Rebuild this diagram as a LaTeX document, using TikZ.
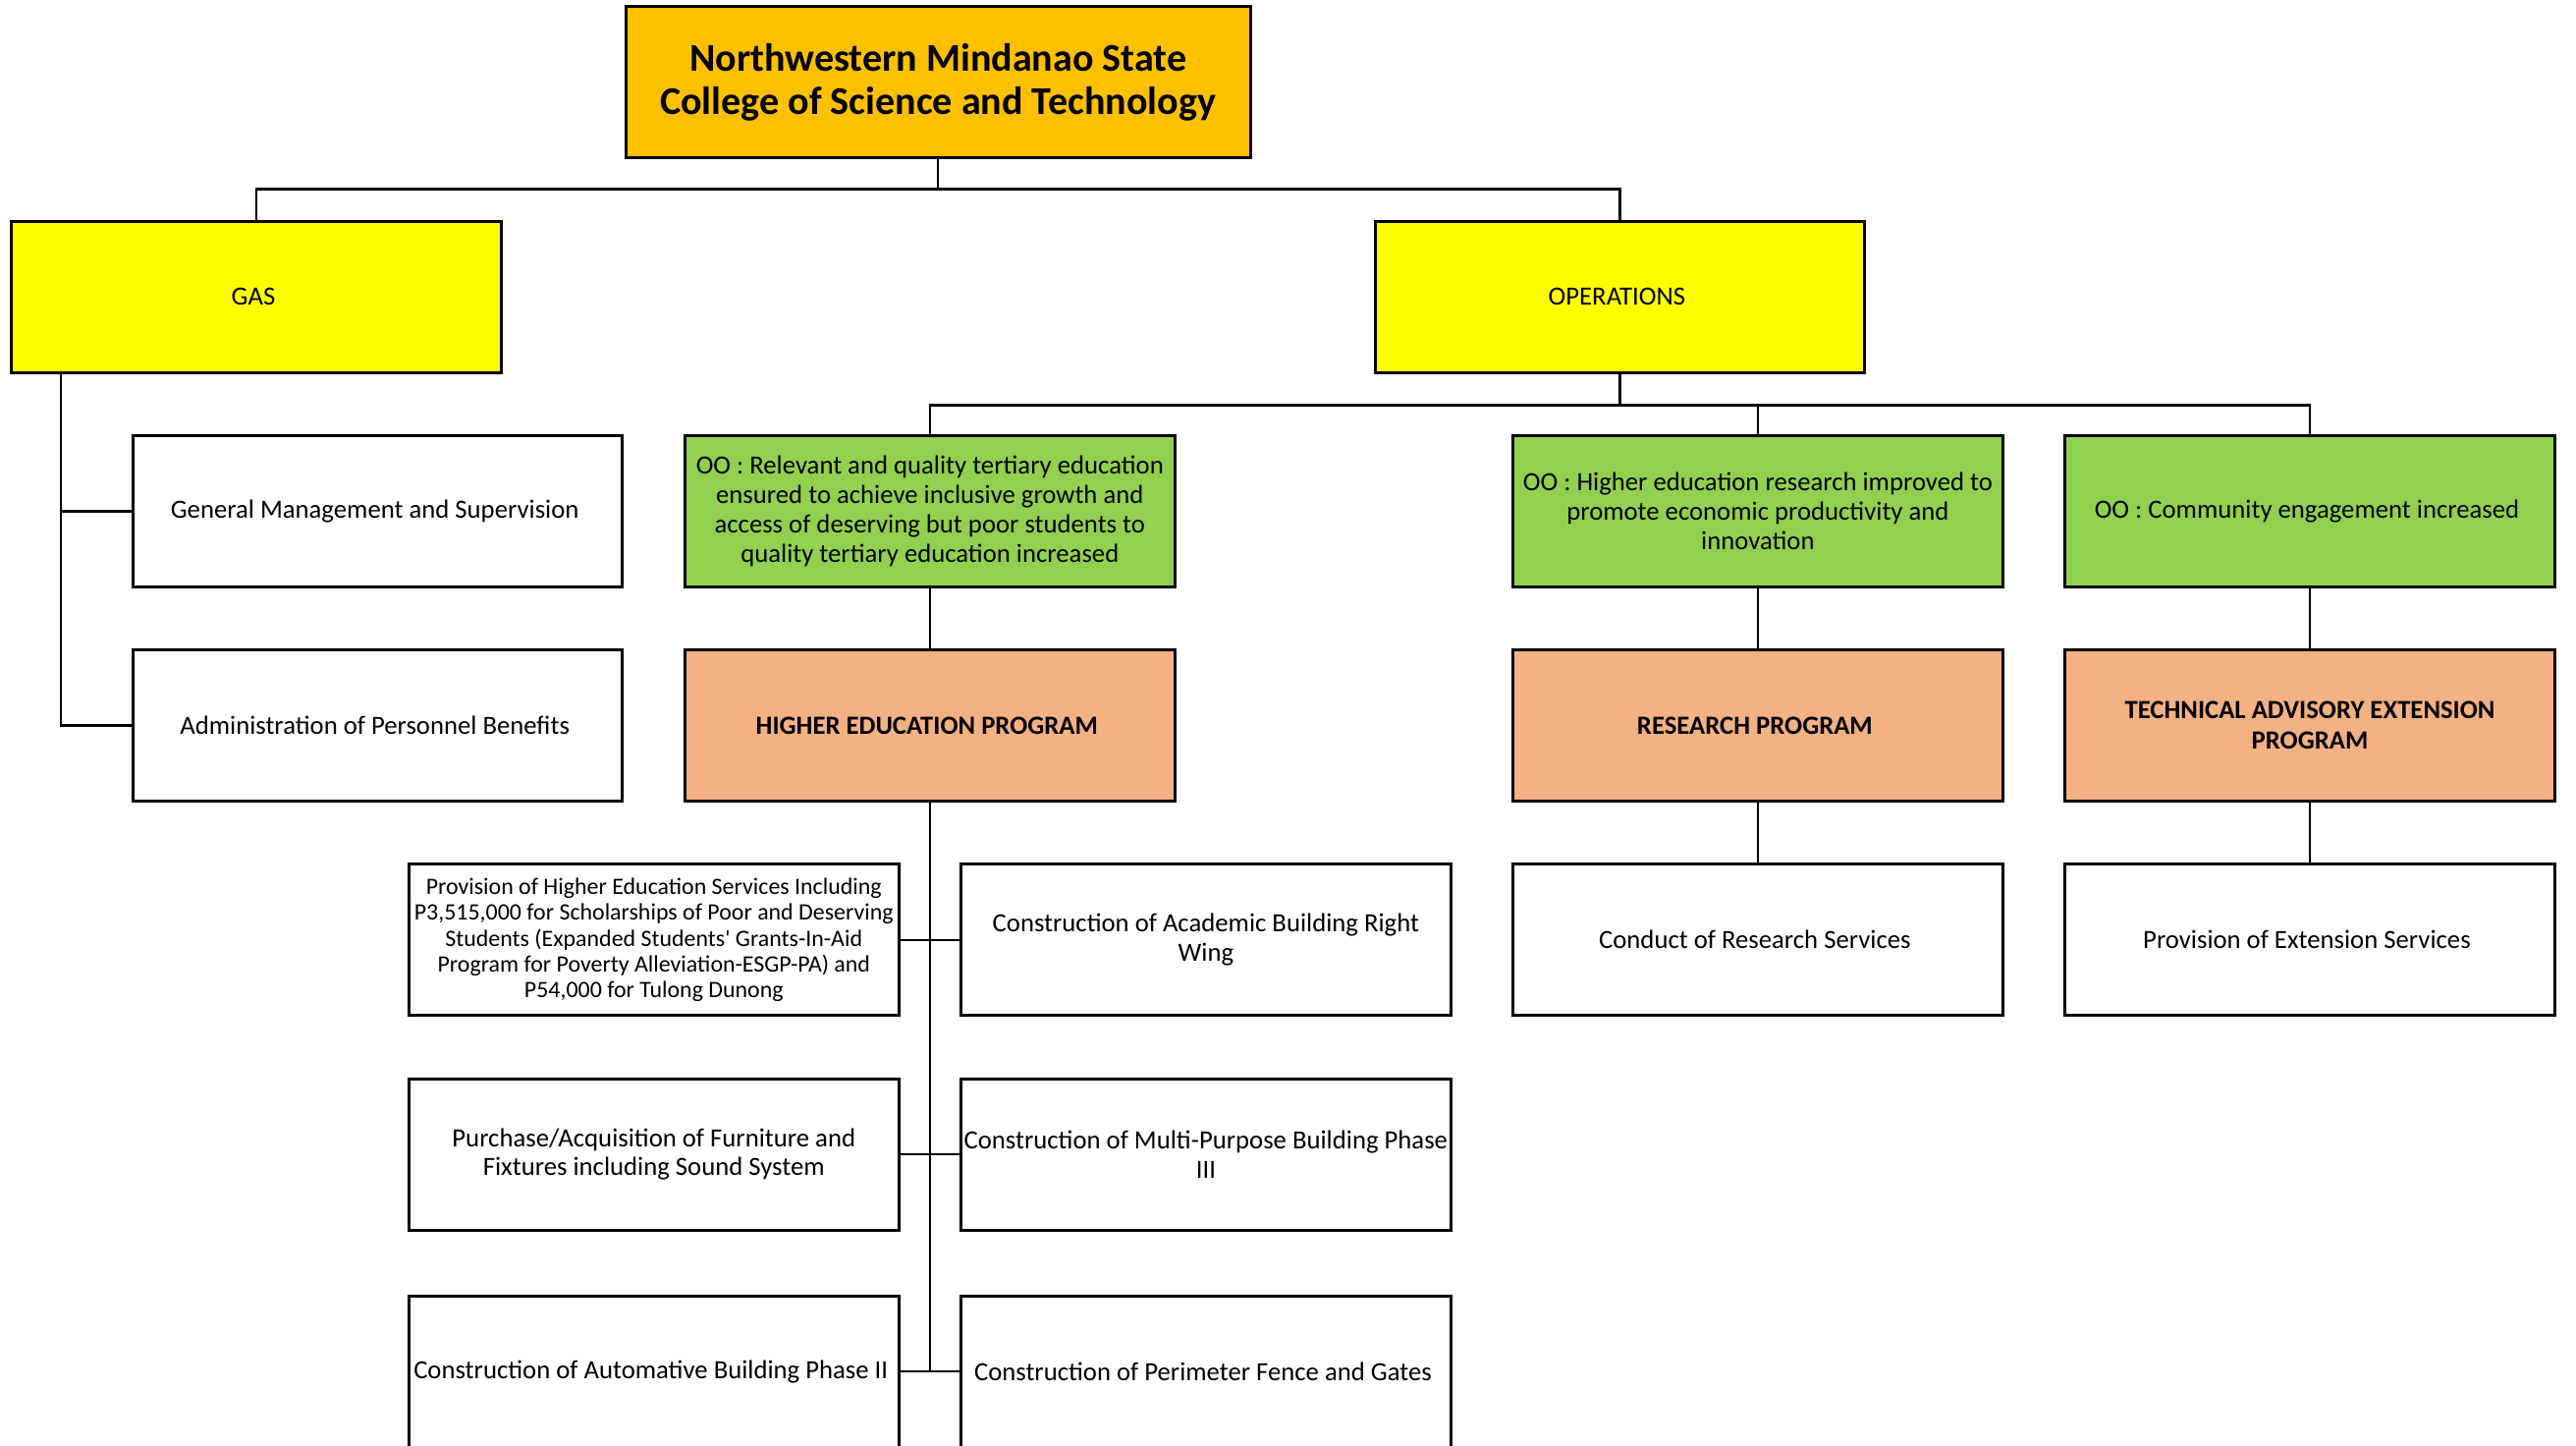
\documentclass[tikz,border=0pt]{standalone}
\usepackage{fontspec}
\setmainfont{Carlito}
\usepackage{tikz}
\usetikzlibrary{positioning}
\definecolor{rootGold}{HTML}{FFC000}
\definecolor{unitYellow}{HTML}{FFFF00}
\definecolor{outcomeGreen}{HTML}{92D050}
\definecolor{programPeach}{HTML}{F4B183}
\tikzstyle{link} = [line width=0.7pt]
\tikzstyle{stdNode} = [shape = rectangle, draw, line width=0.85pt, outer sep=0pt, minimum width=4.985cm, minimum height=1.54cm, inner sep=1pt, align=center, font=\fontsize{7.6}{8.5}\selectfont]
\tikzstyle{smallNode} = [stdNode, font=\fontsize{6.8}{7.5}\selectfont]
\tikzstyle{rootNode} = [stdNode, fill=rootGold, minimum width=6.357cm, minimum height=1.54cm, font=\fontsize{11.4}{12.4}\selectfont\bfseries]
\tikzstyle{unitNode} = [stdNode, fill=unitYellow]
\tikzstyle{outcomeNode} = [stdNode, fill=outcomeGreen]
\tikzstyle{programNode} = [stdNode, fill=programPeach, font=\fontsize{7.6}{8.8}\selectfont\bfseries]

\begin{document}
\begin{tikzpicture}
					\useasboundingbox (0,0) rectangle (26.23,-14.71);
					\node (root) [rootNode] at (9.552,-0.836) {
						Northwestern Mindanao State\\College of Science and Technology
					};
					\node (gas) [unitNode] at (2.61,-3.02) {
						GAS
					};
					\node (ops) [unitNode] at (16.494,-3.02) {
						OPERATIONS
					};
					% GAS side
					\node (genMgmt) [stdNode] at (3.847,-5.203) {
						General Management and Supervision
					};
					\node (persBen) [stdNode, below = 0.642cm of genMgmt] {
						Administration of Personnel Benefits
					};
					% organizational outcomes
					\node (ooHigher) [outcomeNode] at (9.468,-5.203) {
						OO : Relevant and quality tertiary education\\ensured to achieve inclusive growth and\\access of deserving but poor students to\\quality tertiary education increased
					};
					\node (ooResearch) [outcomeNode, right = 3.446cm of ooHigher] {
						OO : Higher education research improved to\\promote economic productivity and\\innovation
					};
					\node (ooCommunity) [outcomeNode, right = 0.636cm of ooResearch] {
						OO : Community engagement increased
					};
					% programs
					\node (hep) [programNode, below = 0.642cm of ooHigher] {
						HIGHER EDUCATION PROGRAM
					};
					\node (rp) [programNode, below = 0.642cm of ooResearch] {
						RESEARCH PROGRAM
					};
					\node (taep) [programNode, below = 0.642cm of ooCommunity] {
						TECHNICAL ADVISORY EXTENSION\\PROGRAM
					};
					% projects
					\node (provHE) [smallNode] at (6.658,-9.568) {
						Provision of Higher Education Services Including\\P3,515,000 for Scholarships of Poor and Deserving\\Students (Expanded Students\textquotesingle\ Grants-In-Aid\\Program for Poverty Alleviation-ESGP-PA) and\\P54,000 for Tulong Dunong
					};
					\node (acadWing) [stdNode, right = 0.636cm of provHE] {
						Construction of Academic Building Right\\Wing
					};
					\node (furniture) [stdNode, below = 0.642cm of provHE] {
						Purchase/Acquisition of Furniture and\\Fixtures including Sound System
					};
					\node (multiPurpose) [stdNode, below = 0.642cm of acadWing] {
						Construction of Multi-Purpose Building Phase\\III
					};
					\node (automotive) [stdNode, below = 0.67cm of furniture] {
						Construction of Automative Building Phase II
					};
					\node (fence) [stdNode, below = 0.67cm of multiPurpose] {
						Construction of Perimeter Fence and Gates
					};
					\node (resServ) [stdNode, below = 0.642cm of rp] {
						Conduct of Research Services
					};
					\node (extServ) [stdNode, below = 0.642cm of taep] {
						Provision of Extension Services
					};
					% connectors
					\draw[link] (root.south) -- ++(0,-0.32) -| (gas.north);
					\draw[link] (root.south) -- ++(0,-0.32) -| (ops.north);
					\draw[link] ([xshift=0.502cm]gas.south west) |- (genMgmt.west);
					\draw[link] ([xshift=0.502cm]gas.south west) |- (persBen.west);
					\draw[link] (ops.south) -- ++(0,-0.334) -| (ooHigher.north);
					\draw[link] (ops.south) -- ++(0,-0.334) -| (ooResearch.north);
					\draw[link] (ops.south) -- ++(0,-0.334) -| (ooCommunity.north);
					\draw[link] (ooHigher.south) -- (hep.north);
					\draw[link] (ooResearch.south) -- (rp.north);
					\draw[link] (ooCommunity.south) -- (taep.north);
					\draw[link] (hep.south) -- (hep.south |- automotive.east);
					\draw[link] (provHE.east) -- (acadWing.west);
					\draw[link] (furniture.east) -- (multiPurpose.west);
					\draw[link] (automotive.east) -- (fence.west);
					\draw[link] (rp.south) -- (resServ.north);
					\draw[link] (taep.south) -- (extServ.north);
\end{tikzpicture}
\end{document}
